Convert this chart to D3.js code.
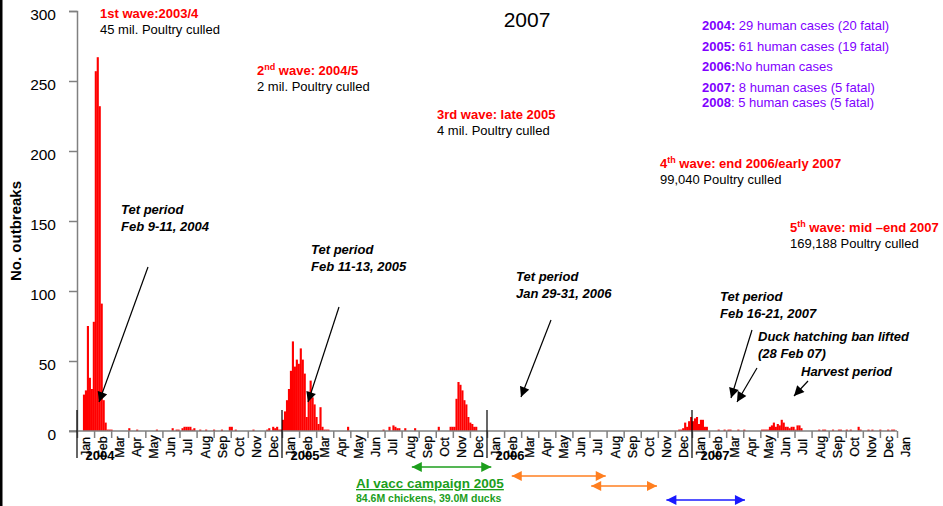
<!DOCTYPE html>
<html><head><meta charset="utf-8">
<script src="https://cdn.jsdelivr.net/npm/d3@7"></script>
<style>
html,body{margin:0;padding:0;background:#fff;}
svg{display:block;font-family:"Liberation Sans",Arial,sans-serif;}
</style></head><body>
<svg id="chart" width="943" height="506"></svg>
<script>
// ---- DATA (time unit: half-week bins counted from 1 Jan 2004, 104 bins per year) ----
const yTicks = [0, 50, 100, 150, 200, 250, 300];
const monthNames = ["Jan","Feb","Mar","Apr","May","Jun","Jul","Aug","Sep","Oct","Nov","Dec"];
const years = ["2004", "2005", "2006", "2007"];

const wave1Start = 3;
const wave1 = [26, 29, 75, 38, 30, 78, 257, 267, 232, 91, 22, 6, 1, 1, 1];
const wave2Start = 104;
const wave2 = [8, 14, 22, 30, 43, 64, 46, 51, 48, 59, 51, 41, 10, 28, 36, 24, 19, 10, 5, 17, 3, 1, 1, 1];
const wave3Start = 189;
const wave3 = [3, 3, 3, 23, 35, 33, 29, 22, 19, 10, 6, 5, 3, 3];
const wave4Start = 305;
const wave4 = [1, 1, 2, 6, 3, 7, 10, 7, 9, 10, 5, 8, 8, 3, 3];
const wave5Start = 347;
const wave5 = [1, 1, 1, 1, 3, 4, 6, 3, 5, 4, 8, 6, 3, 3, 2, 3, 3, 1, 4, 4, 2];
const sporadicBins = [26, 30, 40, 48, 50, 51, 53, 54, 55, 56, 57, 58, 59, 62, 65, 69, 73, 77, 78, 80, 89,
  96, 97, 99, 100, 101, 102, 103, 137, 155, 158, 160, 161, 162, 163, 166, 171, 183,
  325, 328, 330, 331, 335, 338, 376, 378, 379, 383, 386, 387, 390, 392, 396, 397, 401, 403, 407, 411, 413, 414];
const sporadicValues = [2, 1, 1, 2, 1, 1, 2, 3, 3, 3, 3, 1, 2, 1, 1, 1, 1, 3, 3, 1, 1,
  1, 2, 3, 2, 3, 1, 1, 3, 1, 3, 4, 3, 2, 2, 2, 2, 3,
  1, 1, 1, 1, 1, 1, 1, 1, 1, 1, 1, 1, 1, 1, 3, 1, 1, 1, 1, 1, 1, 1];

const waveNotes = [
  {head: "1st wave:2003/4", sup: null, rest: "", sub: "45 mil. Poultry culled", x: 100, y: 18},
  {head: "2", sup: "nd", rest: " wave: 2004/5", sub: "2 mil. Poultry culled", x: 257, y: 75},
  {head: "3rd wave: late 2005", sup: null, rest: "", sub: "4 mil. Poultry culled", x: 437, y: 119},
  {head: "4", sup: "th", rest: " wave: end 2006/early 2007", sub: "99,040 Poultry culled", x: 660, y: 168},
  {head: "5", sup: "th", rest: " wave: mid \u2013end 2007", sub: "169,188 Poultry culled", x: 790, y: 232}
];
const humanYears = ["2004:", "2005:", "2006:", "2007:", "2008"];
const humanText = [" 29 human cases (20 fatal)", " 61 human cases (19 fatal)", "No human cases", " 8 human cases (5 fatal)", ": 5 human cases (5 fatal)"];

// ---- BUILD ----
const svg = d3.select("#chart");
const W = 943, H = 506;
const x0 = 77, x1 = 897, yBase = 431, yTop = 11;
const nBins = 416;
const xBin = d3.scaleLinear().domain([0, nBins]).range([x0, x1]);
const xMonth = d3.scaleLinear().domain([0, 48]).range([x0, x1]);
const y = d3.scaleLinear().domain([0, 300]).range([yBase, yTop]);

// left frame line
svg.append("rect").attr("x", 0).attr("y", 0).attr("width", 2.5).attr("height", H).attr("fill", "#000");

// assemble bars
const bars = [];
[[wave1Start, wave1], [wave2Start, wave2], [wave3Start, wave3], [wave4Start, wave4], [wave5Start, wave5]]
  .forEach(([s, arr]) => arr.forEach((v, i) => bars.push({bin: s + i, v})));
sporadicBins.forEach((b, i) => bars.push({bin: b, v: sporadicValues[i]}));

svg.append("g").selectAll("rect").data(bars.filter(d => d.v > 0)).join("rect")
  .attr("x", d => xBin(d.bin))
  .attr("width", d => xBin(d.bin + 1) - xBin(d.bin) + 0.15)
  .attr("y", d => y(d.v))
  .attr("height", d => yBase - y(d.v))
  .attr("fill", "#ff0000");

// y axis
const yAxis = svg.append("g").attr("transform", `translate(${x0},0)`)
  .call(d3.axisLeft(y).tickValues(yTicks).tickSize(8).tickPadding(13));
yAxis.select(".domain").attr("stroke", "#808080").attr("stroke-width", 1.5);
yAxis.selectAll(".tick line").attr("stroke", "#808080").attr("stroke-width", 1.5);
yAxis.selectAll(".tick text").attr("font-size", 15.5).attr("fill", "#000")
  .attr("font-family", "Liberation Sans, Arial, sans-serif").attr("dy", "0.55em");

// x axis (month boundaries)
const xAxis = svg.append("g").attr("transform", `translate(0,${yBase})`)
  .call(d3.axisBottom(xMonth).tickValues(d3.range(0, 49)).tickSize(7).tickFormat(""));
xAxis.select(".domain").attr("stroke", "#808080").attr("stroke-width", 1.5).attr("d", `M${x0 - 8},0H${x1}`);
xAxis.selectAll(".tick line").attr("stroke", "#808080").attr("stroke-width", 1.5);

// month labels at month centres
const monthLabels = d3.range(0, 49).map(i => monthNames[i % 12]);
const xBand = d3.scaleBand().domain(d3.range(0, 49)).range([x0, xMonth(49)]);
svg.append("g").selectAll("text").data(monthLabels).join("text")
  .attr("transform", (d, i) => `translate(${xBand(i) + xBand.bandwidth() / 2},447) rotate(-90)`)
  .attr("text-anchor", "middle").attr("dy", "0.35em")
  .attr("font-size", 12.5).attr("fill", "#000").attr("stroke", "#000").attr("stroke-width", 0.25).text(d => d);

// year separator lines and labels
years.forEach((yr, k) => {
  const xx = xMonth(k * 12);
  svg.append("line").attr("x1", xx).attr("x2", xx).attr("y1", 410).attr("y2", 458)
    .attr("stroke", "#000").attr("stroke-width", 1.2);
  svg.append("text").attr("x", xx + 23).attr("y", 460).attr("text-anchor", "middle")
    .attr("font-size", 13).attr("font-weight", "bold").attr("fill", "#000").text(yr);
});

// y axis title
svg.append("text").attr("transform", "translate(21,231) rotate(-90)").attr("text-anchor", "middle")
  .attr("font-size", 15).attr("font-weight", "bold").text("No. outbreaks");

// title
svg.append("text").attr("x", 527).attr("y", 27).attr("text-anchor", "middle")
  .attr("font-size", 21).attr("fill", "#000").text("2007");

// wave notes
waveNotes.forEach(n => {
  const t = svg.append("text").attr("x", n.x).attr("y", n.y).attr("font-size", 13)
    .attr("font-weight", "bold").attr("fill", "#ff0000");
  t.append("tspan").text(n.head);
  if (n.sup) {
    t.append("tspan").attr("font-size", 9).attr("dy", -5).text(n.sup);
    t.append("tspan").attr("dy", 5).text(n.rest);
  }
  svg.append("text").attr("x", n.x).attr("y", n.y + 16).attr("font-size", 13).attr("fill", "#000").text(n.sub);
});

// human cases
const humanY = [30, 51, 71, 92, 107];
humanYears.forEach((h, i) => {
  const t = svg.append("text").attr("x", 702).attr("y", humanY[i]).attr("font-size", 13).attr("fill", "#7f00ff");
  t.append("tspan").attr("font-weight", "bold").text(h);
  t.append("tspan").text(humanText[i]);
});

// markers
const defs = svg.append("defs");
function marker(id, color, reverse) {
  defs.append("marker").attr("id", id).attr("viewBox", "0 0 10 10").attr("refX", reverse ? 0 : 10).attr("refY", 5)
    .attr("markerUnits", "userSpaceOnUse").attr("markerWidth", 11).attr("markerHeight", 10).attr("orient", "auto")
    .append("path").attr("d", reverse ? "M10,0L0,5L10,10Z" : "M0,0L10,5L0,10Z").attr("fill", color);
}
marker("ah", "#000", false);
[["g", "#1c9e1c"], ["o", "#ff7f20"], ["b", "#1a1aff"]].forEach(([k, c]) => {
  marker("e" + k, c, false); marker("s" + k, c, true);
});

// Tet and other annotations
const notes = [
  {lines: ["Tet period", "Feb 9-11, 2004"], x: 121, y: 214, a: [148, 267, 99, 402]},
  {lines: ["Tet period", "Feb 11-13, 2005"], x: 311, y: 254, a: [339, 307, 308, 402]},
  {lines: ["Tet period", "Jan 29-31, 2006"], x: 516, y: 281, a: [551, 320, 521, 397]},
  {lines: ["Tet period", "Feb 16-21, 2007"], x: 720, y: 301, a: [752, 330, 731, 398]},
  {lines: ["Duck hatching ban lifted", "(28 Feb 07)"], x: 758, y: 341, a: [757, 368, 737, 402]},
  {lines: ["Harvest period"], x: 801, y: 376, a: [808, 381, 794, 396]}
];
notes.forEach(n => {
  n.lines.forEach((l, i) => svg.append("text").attr("x", n.x).attr("y", n.y + i * 17)
    .attr("font-size", 13).attr("font-weight", "bold").attr("font-style", "italic").attr("fill", "#000").text(l));
  svg.append("line").attr("x1", n.a[0]).attr("y1", n.a[1]).attr("x2", n.a[2]).attr("y2", n.a[3])
    .attr("stroke", "#000").attr("stroke-width", 1.2).attr("marker-end", "url(#ah)");
});

// campaign arrows (month units)
const campaigns = [
  {k: "g", c: "#1c9e1c", from: 19.6, to: 24.25, y: 467},
  {k: "o", c: "#ff7f20", from: 25.45, to: 30.95, y: 476},
  {k: "o", c: "#ff7f20", from: 30.1, to: 33.95, y: 486},
  {k: "b", c: "#1a1aff", from: 34.5, to: 39.1, y: 500}
];
campaigns.forEach(c => {
  svg.append("line").attr("x1", xMonth(c.from)).attr("x2", xMonth(c.to)).attr("y1", c.y).attr("y2", c.y)
    .attr("stroke", c.c).attr("stroke-width", 1.5)
    .attr("marker-start", `url(#s${c.k})`).attr("marker-end", `url(#e${c.k})`);
});
svg.append("text").attr("x", 356).attr("y", 488).attr("font-size", 13.5).attr("font-weight", "bold")
  .attr("fill", "#1c9e1c").attr("text-decoration", "underline").text("AI vacc campaign 2005");
svg.append("text").attr("x", 356).attr("y", 502).attr("font-size", 10.5).attr("font-weight", "bold")
  .attr("fill", "#1c9e1c").text("84.6M chickens, 39.0M ducks");
</script>
</body></html>
